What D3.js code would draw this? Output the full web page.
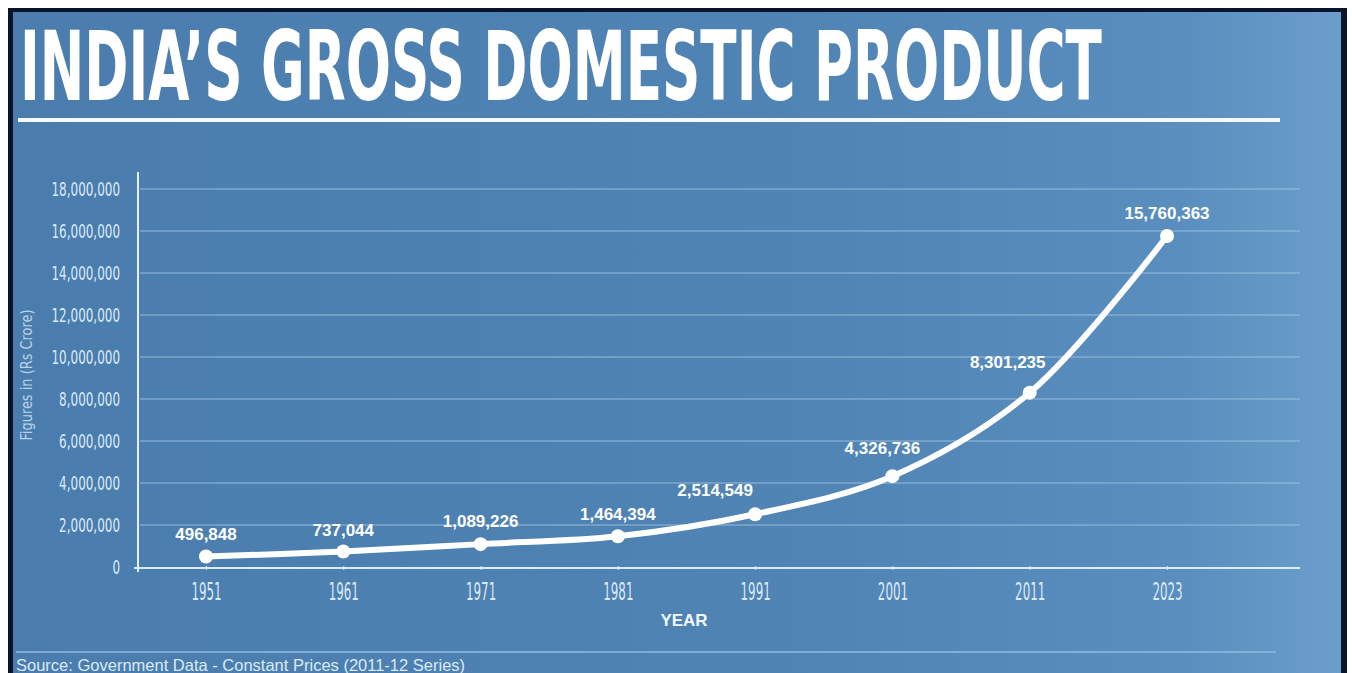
<!DOCTYPE html>
<html>
<head>
<meta charset="utf-8">
<script src="https://cdn.jsdelivr.net/npm/d3@7"></script>
<style>
  body { margin: 0; background: #fff; }
  svg { display: block; }
</style>
</head>
<body>
<svg id="chart" width="1352" height="673"></svg>
<script>
// data
var years = ["1951", "1961", "1971", "1981", "1991", "2001", "2011", "2023"];
var gdp = [496848, 737044, 1089226, 1464394, 2514549, 4326736, 8301235, 15760363];
var yTicks = [0, 2000000, 4000000, 6000000, 8000000, 10000000, 12000000, 14000000, 16000000, 18000000];

var svg = d3.select("#chart");
var W = 1352, H = 673;
var narrow = "'DejaVu Sans Condensed', 'Liberation Sans Narrow', sans-serif";

// squeeze a text horizontally, the reference uses a tall condensed face
function squeeze(sel, k) {
  sel.each(function() {
    var w = this.getComputedTextLength();
    d3.select(this).attr("textLength", w * k).attr("lengthAdjust", "spacingAndGlyphs");
  });
}

// background with gradient
var defs = svg.append("defs");
var grad = defs.append("linearGradient").attr("id", "bg").attr("x1", "0").attr("x2", "1").attr("y1", "0").attr("y2", "0");
grad.append("stop").attr("offset", "0").attr("stop-color", "#4a7dad");
grad.append("stop").attr("offset", "0.6").attr("stop-color", "#5084b4");
grad.append("stop").attr("offset", "0.88").attr("stop-color", "#5a8ebe");
grad.append("stop").attr("offset", "1").attr("stop-color", "#6b9ecb");

svg.append("rect").attr("x", 8).attr("y", 8).attr("width", 1339).attr("height", H).attr("fill", "#08142a");
svg.append("rect").attr("x", 13).attr("y", 12).attr("width", 1328).attr("height", H).attr("fill", "url(#bg)");

// title, drawn at natural width then scaled to fit
var title = svg.append("text")
    .attr("x", 0)
    .attr("y", 0)
    .style("font-family", narrow)
    .style("font-weight", "bold")
    .style("font-size", "96px")
    .style("fill", "#ffffff")
    .text("INDIA\u2019S GROSS DOMESTIC PRODUCT");
var tw = title.node().getComputedTextLength();
title.attr("transform", "translate(20,100) scale(" + (1082 / tw) + ",1)");

svg.append("rect").attr("x", 18).attr("y", 118).attr("width", 1262).attr("height", 4).attr("fill", "#f4f9ff");

// scales
var x = d3.scalePoint().domain(years).range([206, 1167]);
var y = d3.scaleLinear().domain([0, 18000000]).range([567, 189]);

// grid
svg.append("g")
  .selectAll("line")
  .data(yTicks.slice(1))
  .enter().append("line")
    .attr("x1", 140).attr("x2", 1300)
    .attr("y1", function(d) { return y(d); })
    .attr("y2", function(d) { return y(d); })
    .attr("stroke", "#a9c8e6")
    .attr("stroke-opacity", 0.55)
    .attr("stroke-width", 1.5);

// y axis
var yAxis = svg.append("g")
    .attr("transform", "translate(138,0)")
    .call(d3.axisLeft(y).tickValues(yTicks).tickSize(0).tickPadding(18)
      .tickFormat(function(d) { return d3.format(",")(d); }));
yAxis.select(".domain").remove();
yAxis.selectAll("text")
    .style("font-family", narrow)
    .style("font-size", "19px")
    .style("fill", "#dce9f6")
    .call(squeeze, 0.7);
svg.append("line").attr("x1", 138).attr("x2", 138).attr("y1", 172).attr("y2", 572)
    .attr("stroke", "#e6f1fb").attr("stroke-width", 2);

// x axis
var xAxis = svg.append("g")
    .attr("transform", "translate(0,568)")
    .call(d3.axisBottom(x).tickSize(4).tickPadding(11));
xAxis.select(".domain").remove();
xAxis.selectAll("line").attr("stroke", "#d8e8f6").attr("transform", "translate(0,-2)");
xAxis.selectAll("text")
    .style("font-family", narrow)
    .style("font-size", "24px")
    .style("fill", "#dce9f6")
    .call(squeeze, 0.55);
svg.append("line").attr("x1", 134).attr("x2", 1300).attr("y1", 568).attr("y2", 568)
    .attr("stroke", "#dcebf8").attr("stroke-width", 2);

svg.append("text")
    .attr("x", 684).attr("y", 626)
    .attr("text-anchor", "middle")
    .style("font-family", "'Liberation Sans', Arial, sans-serif")
    .style("font-weight", "bold")
    .style("font-size", "17px")
    .style("fill", "#f2f8ff")
    .text("YEAR");

svg.append("text")
    .attr("transform", "translate(32,375) rotate(-90)")
    .attr("text-anchor", "middle")
    .style("font-family", narrow)
    .style("font-size", "16px")
    .style("fill", "#b9d2ea")
    .text("Figures in (Rs Crore)")
    .call(squeeze, 0.9);

// line
var pts = years.map(function(d, i) { return { year: d, value: gdp[i] }; });
var line = d3.line()
    .x(function(d) { return x(d.year); })
    .y(function(d) { return y(d.value); })
    .curve(d3.curveCatmullRom.alpha(0.5));

svg.append("path")
    .datum(pts)
    .attr("d", line)
    .attr("fill", "none")
    .attr("stroke", "#ffffff")
    .attr("stroke-width", 6)
    .attr("stroke-linecap", "round")
    .attr("stroke-linejoin", "round");

svg.selectAll(".dot")
    .data(pts)
    .enter().append("circle")
    .attr("class", "dot")
    .attr("cx", function(d) { return x(d.year); })
    .attr("cy", function(d) { return y(d.value); })
    .attr("r", 7)
    .attr("fill", "#ffffff");

// value labels, nudged off the line
var labelDx = [0, 0, 0, 0, -40, -10, -22, 0];
var labelDy = [-17, -16, -17, -16, -18, -22, -25, -17];
svg.selectAll(".lbl")
    .data(pts)
    .enter().append("text")
    .attr("class", "lbl")
    .attr("x", function(d, i) { return x(d.year) + labelDx[i]; })
    .attr("y", function(d, i) { return y(d.value) + labelDy[i]; })
    .attr("text-anchor", "middle")
    .style("font-family", "'Liberation Sans', Arial, sans-serif")
    .style("font-weight", "bold")
    .style("font-size", "17px")
    .style("fill", "#ffffff")
    .text(function(d) { return d3.format(",")(d.value); });

// source
svg.append("rect").attr("x", 16).attr("y", 651).attr("width", 1260).attr("height", 2).attr("fill", "#8fb6dc").attr("opacity", 0.8);
svg.append("text")
    .attr("x", 16).attr("y", 671)
    .style("font-family", "'Liberation Sans', Arial, sans-serif")
    .style("font-size", "16.5px")
    .style("fill", "#dbe9f6")
    .text("Source: Government Data - Constant Prices (2011-12 Series)");
</script>
</body>
</html>
